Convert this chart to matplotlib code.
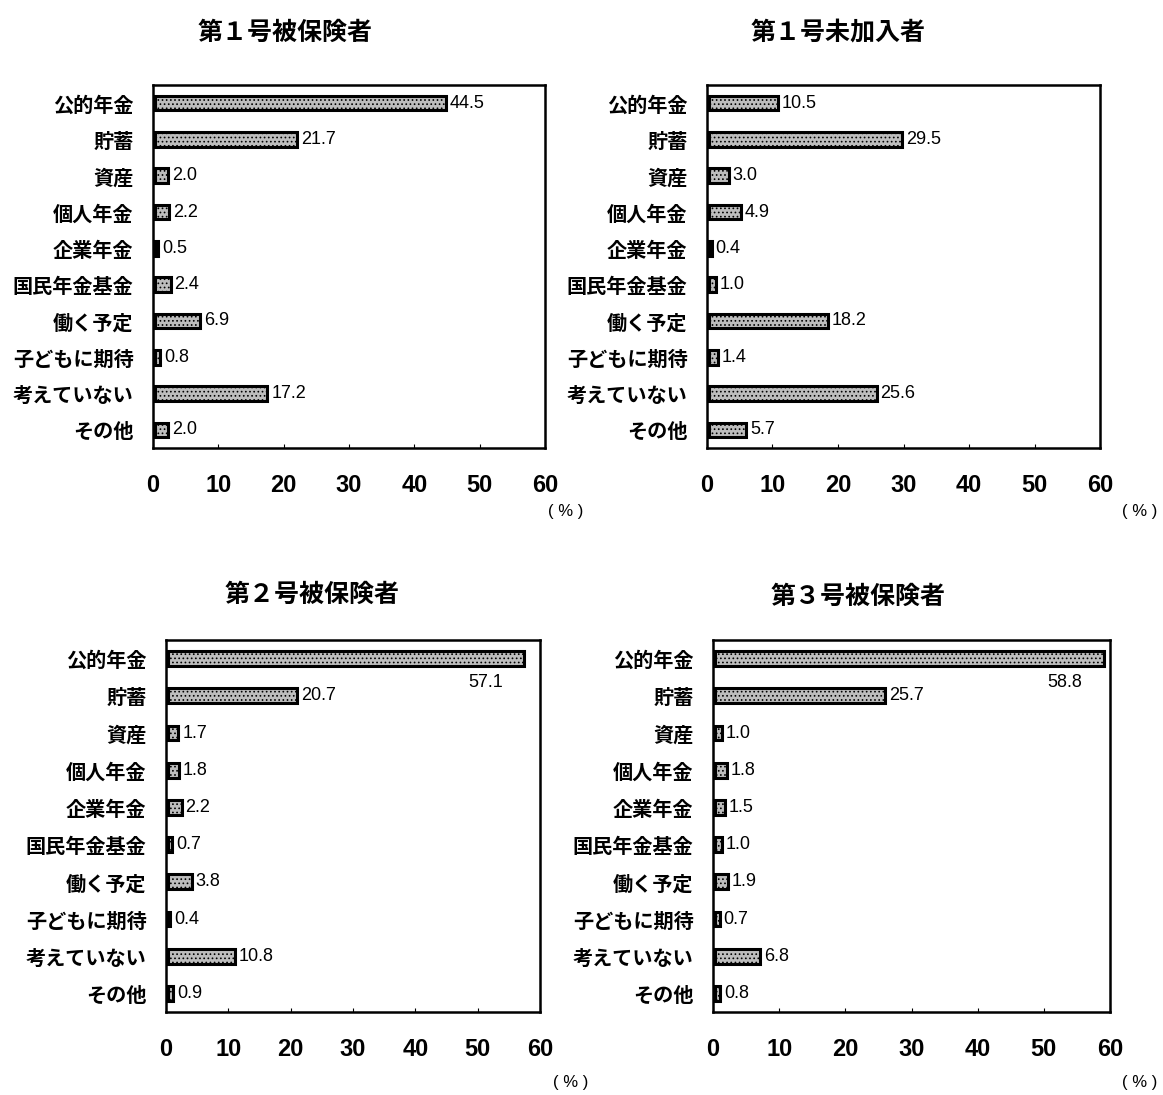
import numpy as np
import matplotlib
matplotlib.use("Agg")
import matplotlib.pyplot as plt

plt.rcParams['font.family'] = ['Noto Sans CJK JP', 'DejaVu Sans']
plt.rcParams['hatch.color'] = '#4a4a4a'
plt.rcParams['hatch.linewidth'] = 0.7

categories = ['公的年金', '貯蓄', '資産', '個人年金', '企業年金', '国民年金基金',
              '働く予定', '子どもに期待', '考えていない', 'その他']

titles = ['第１号被保険者', '第１号未加入者', '第２号被保険者', '第３号被保険者']

vals_1 = [44.5, 21.7, 2.0, 2.2, 0.5, 2.4, 6.9, 0.8, 17.2, 2.0]
vals_1u = [10.5, 29.5, 3.0, 4.9, 0.4, 1.0, 18.2, 1.4, 25.6, 5.7]
vals_2 = [57.1, 20.7, 1.7, 1.8, 2.2, 0.7, 3.8, 0.4, 10.8, 0.9]
vals_3 = [58.8, 25.7, 1.0, 1.8, 1.5, 1.0, 1.9, 0.7, 6.8, 0.8]

xticks = [0, 10, 20, 30, 40, 50, 60]

W, H = 1163, 1095
fig = plt.figure(figsize=(W / 100, H / 100), dpi=100)

# pixel boxes (left, top, right, bottom), title position, (%) position
panels = [
    (vals_1, (153, 85, 545, 448), (285, 33), (566, 512)),
    (vals_1u, (707, 85, 1100, 448), (838, 33), (1140, 512)),
    (vals_2, (166, 640, 540, 1012), (312, 595), (571, 1083)),
    (vals_3, (713, 640, 1110, 1012), (858, 597), (1140, 1083)),
]

num_font = ['Liberation Sans', 'DejaVu Sans']

for (vals, box, tpos, ppos), title in zip(panels, titles):
    l, t, r, b = box
    ax = fig.add_axes([l / W, 1 - b / H, (r - l) / W, (b - t) / H])
    y = np.arange(len(categories))
    ax.barh(y, vals, height=0.4, left=0.3, color='#bdbdbd', edgecolor='black',
            linewidth=2.2, hatch='....')
    for yi, v in zip(y, vals):
        if v > 55:
            ax.text(v - 3, yi + 0.65, f'{v:.1f}', ha='right', va='center',
                    fontsize=13, family=num_font)
        else:
            ax.text(v + 0.9, yi, f'{v:.1f}', ha='left', va='center',
                    fontsize=13, family=num_font)
    ax.set_xlim(0, 60)
    ax.set_ylim(9.5, -0.5)
    ax.set_yticks(y)
    ax.set_yticklabels(categories, fontsize=14.5, fontweight='bold')
    ax.set_xticks(xticks)
    ax.set_xticklabels([str(x) for x in xticks], fontsize=17, fontweight='bold',
                       family=num_font)
    ax.tick_params(axis='y', length=0, pad=14)
    ax.tick_params(axis='x', direction='in', length=3, pad=19)
    for s in ax.spines.values():
        s.set_linewidth(1.8)
    fig.text(tpos[0] / W, 1 - tpos[1] / H, title, ha='center', va='center',
             fontsize=18, fontweight='bold')
    fig.text(ppos[0] / W, 1 - ppos[1] / H, '( % )', ha='center', va='center',
             fontsize=12, family=num_font)

fig.savefig('out.png', dpi=100, facecolor='white')
